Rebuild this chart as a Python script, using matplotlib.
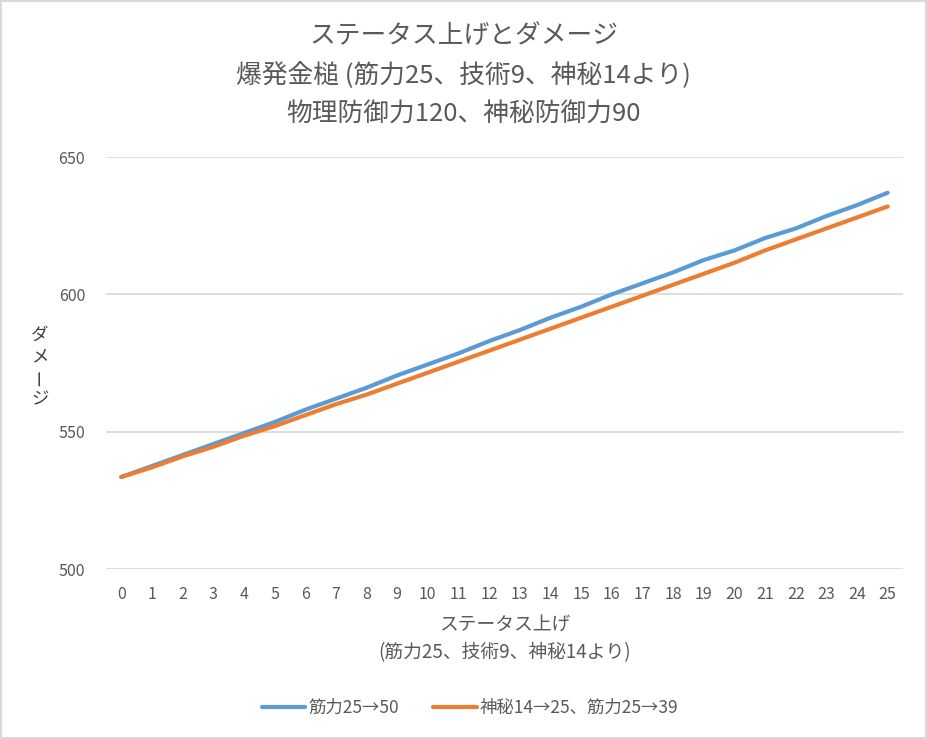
import matplotlib.pyplot as plt
import matplotlib.patches as mpatches
import numpy as np

plt.rcParams['font.family'] = ['Noto Sans CJK JP', 'DejaVu Sans']

# data
steps = list(range(26))
strength_only = [533.5, 537.5, 541.5, 545.5, 549.5, 553.5, 558, 562, 566, 570.5,
                 574.5, 578.5, 583, 587, 591.5, 595.5, 600, 604, 608, 612.5,
                 616, 620.5, 624, 628.5, 632.5, 637]
arcane_mix = [533.5, 537, 541, 544.5, 548.5, 552, 556, 560, 563.5, 567.5,
              571.5, 575.5, 579.5, 583.5, 587.5, 591.5, 595.5, 599.5, 603.5, 607.5,
              611.5, 616, 620, 624, 628, 632]
series_names = ['筋力25→50', '神秘14→25、筋力25→39']
colors = ['#5B9BD5', '#ED7D31']
text_col = '#595959'

fig = plt.figure(figsize=(9.27, 7.39), dpi=100)
ax = fig.add_axes([0.1143, 0.23, 0.8598, 0.5575])

for vals, name, c in zip([strength_only, arcane_mix], series_names, colors):
    ax.plot(steps, vals, color=c, lw=3, label=name, solid_capstyle='round')

ax.set_xlim(-0.5, 25.5)
ax.set_ylim(500, 650)
ax.set_yticks([500, 550, 600, 650])
ax.set_xticks(steps)
ax.grid(axis='y', color='#d9d9d9', lw=1.2)
ax.set_axisbelow(True)
for s in ax.spines.values():
    s.set_visible(False)
ax.tick_params(length=0, colors=text_col, labelsize=11.5, pad=12)
ax.tick_params(axis='y', pad=15)

fig.text(0.5, 0.951, 'ステータス上げとダメージ', ha='center', va='center',
         fontsize=18.5, color=text_col)
fig.text(0.5, 0.897, '爆発金槌 (筋力25、技術9、神秘14より)', ha='center', va='center',
         fontsize=18.5, color=text_col)
fig.text(0.5, 0.846, '物理防御力120、神秘防御力90', ha='center', va='center',
         fontsize=18.5, color=text_col)

fig.text(0.544, 0.154, 'ステータス上げ', ha='center', va='center',
         fontsize=13.5, color=text_col)
fig.text(0.544, 0.117, '(筋力25、技術9、神秘14より)', ha='center', va='center',
         fontsize=13.5, color=text_col)

# vertical y label, character by character
ylab = ['ダ', 'メ', 'ー', 'ジ']
for i, ch in enumerate(ylab):
    fig.text(0.043, 0.547 - i * 0.029, ch, ha='center', va='center', fontsize=12.5,
             color='#404040', rotation=90 if ch == 'ー' else 0)

fig.legend(loc='center', bbox_to_anchor=(0.507, 0.042), ncol=2, frameon=False,
           fontsize=12.5, labelcolor=text_col, handlelength=2.5, handletextpad=0.15,
           columnspacing=2.0)

fig.patches.append(mpatches.Rectangle((0.001, 0.001), 0.998, 0.998, transform=fig.transFigure,
                                      fill=False, edgecolor='#d9d9d9', lw=1.5))

fig.savefig('out.png', dpi=100, facecolor='white')
